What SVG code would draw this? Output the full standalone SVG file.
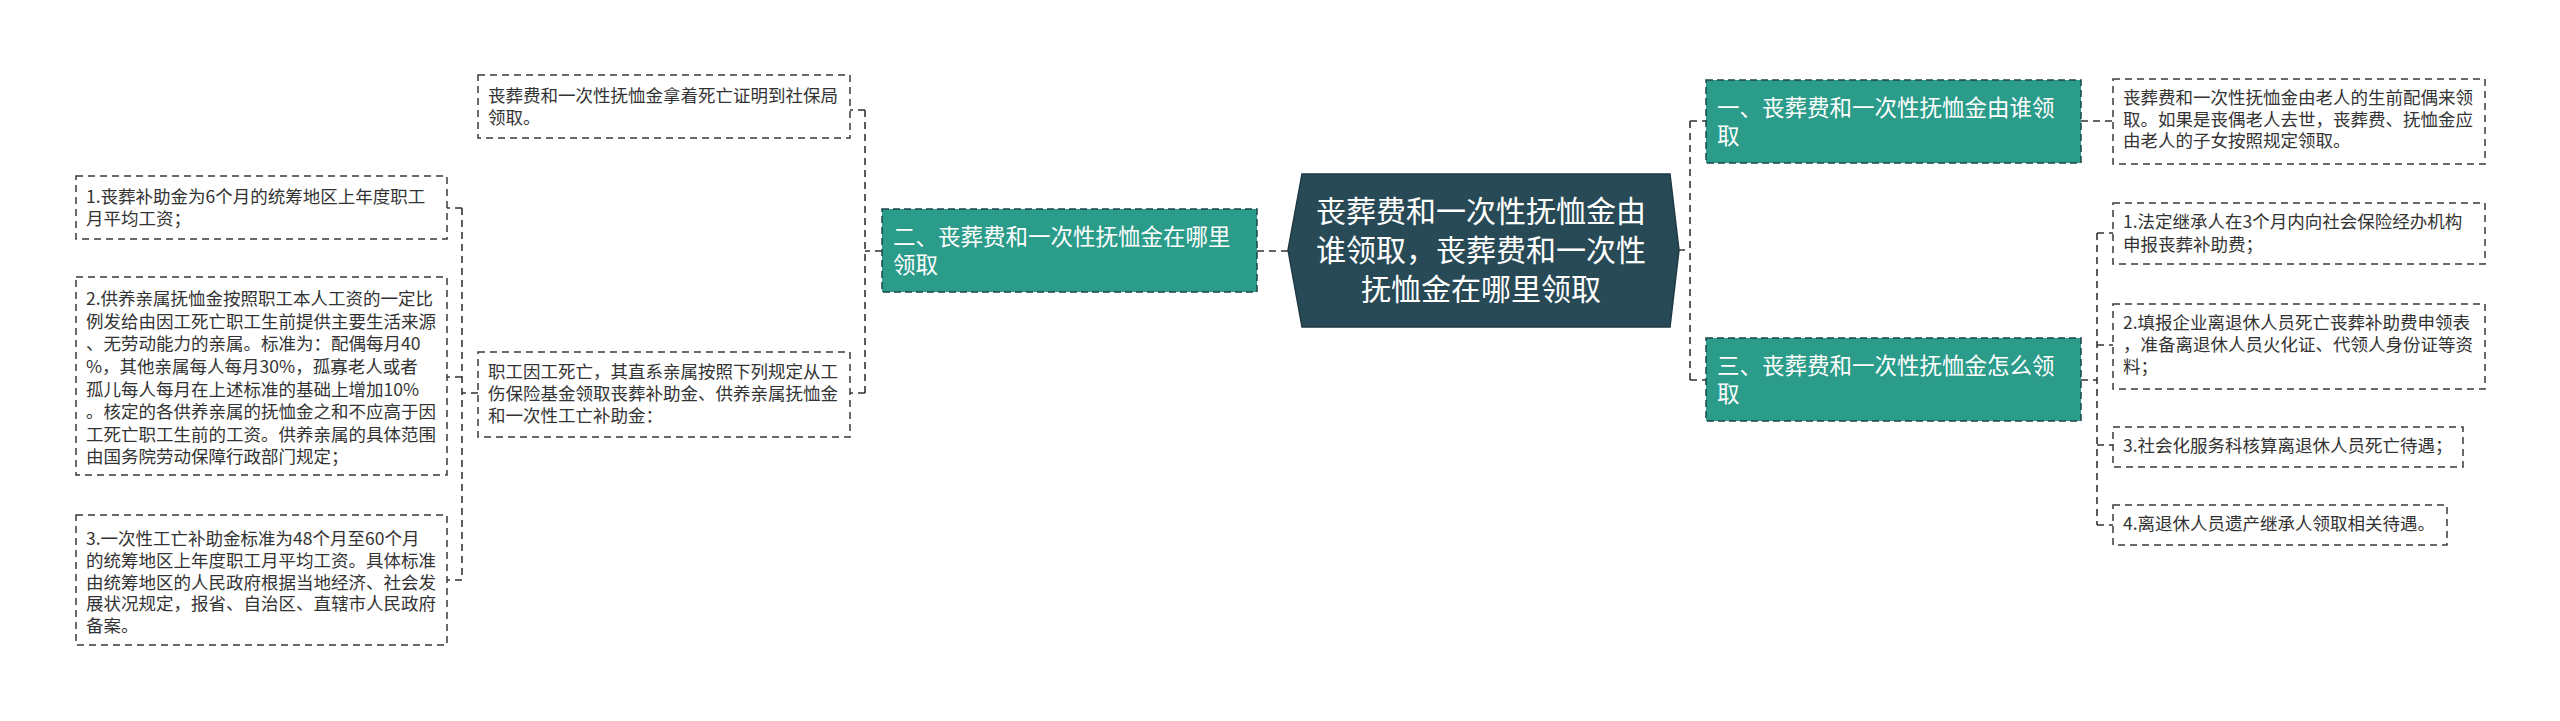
<svg xmlns="http://www.w3.org/2000/svg" width="2560" height="721" viewBox="0 0 2560 721">
<style>
.t{font-family:"Noto Sans CJK SC","Noto Sans",sans-serif}
.leaf{fill:#fff;stroke:#3a3a3a;stroke-width:1.5;stroke-dasharray:7 5}
.lt{font-size:17.5px;fill:#333}
.sub{fill:#2b9b8a;stroke:#1e4548;stroke-width:1.5;stroke-dasharray:7 4}
.st{font-size:22.5px;fill:#fff}
.ct{font-size:30px;fill:#fff}
.c{fill:none;stroke:#333;stroke-width:1.6;stroke-dasharray:7 5}
</style>
<rect width="2560" height="721" fill="#fff"/>
<g id="connectors">
<path class="c" d="M1257,251 H1288"/>
<path class="c" d="M1678,250 H1690 M1690,121 V380 M1690,121 H1706 M1690,380 H1706"/>
<path class="c" d="M2081,121 H2113"/>
<path class="c" d="M2081,380 H2097 M2097,233 V525 M2097,233 H2113 M2097,345 H2113 M2097,445 H2113 M2097,525 H2113"/>
<path class="c" d="M882,251 H865 M865,110 V393 M865,110 H850 M865,393 H850"/>
<path class="c" d="M478,393 H462 M462,208 V580 M462,208 H447 M462,377 H447 M462,580 H447"/>
</g>
<g id="center">
<polygon points="1302,174 1670,174 1679,250 1670,327 1302,327 1288,250" fill="#284a56" stroke="#1f3a44" stroke-width="1.5"/>
<text class="t ct" text-anchor="middle"><tspan x="1481" y="222">丧葬费和一次性抚恤金由</tspan><tspan x="1481" y="261">谁领取，丧葬费和一次性</tspan><tspan x="1481" y="300">抚恤金在哪里领取</tspan></text>
</g>
<g id="n1">
<rect class="sub" x="1706" y="80" width="375" height="83"/>
<text class="t st"><tspan x="1717" y="116">一、丧葬费和一次性抚恤金由谁领</tspan><tspan x="1717" y="144">取</tspan></text>
</g>
<g id="n1a">
<rect class="leaf" x="2113" y="79" width="372" height="85"/>
<text class="t lt"><tspan x="2123" y="104">丧葬费和一次性抚恤金由老人的生前配偶来领</tspan><tspan x="2123" y="126">取。如果是丧偶老人去世，丧葬费、抚恤金应</tspan><tspan x="2123" y="147">由老人的子女按照规定领取。</tspan></text>
</g>
<g id="n3">
<rect class="sub" x="1706" y="338" width="375" height="83"/>
<text class="t st"><tspan x="1717" y="374">三、丧葬费和一次性抚恤金怎么领</tspan><tspan x="1717" y="402">取</tspan></text>
</g>
<g id="n3a">
<rect class="leaf" x="2113" y="203" width="372" height="61"/>
<text class="t lt"><tspan x="2123" y="228">1.法定继承人在3个月内向社会保险经办机构</tspan><tspan x="2123" y="251">申报丧葬补助费；</tspan></text>
</g>
<g id="n3b">
<rect class="leaf" x="2113" y="304" width="372" height="85"/>
<text class="t lt"><tspan x="2123" y="329">2.填报企业离退休人员死亡丧葬补助费申领表</tspan><tspan x="2123" y="351">，准备离退休人员火化证、代领人身份证等资</tspan><tspan x="2123" y="373">料；</tspan></text>
</g>
<g id="n3c">
<rect class="leaf" x="2113" y="427" width="350" height="40"/>
<text class="t lt" x="2123" y="452">3.社会化服务科核算离退休人员死亡待遇；</text>
</g>
<g id="n3d">
<rect class="leaf" x="2113" y="505" width="334" height="40"/>
<text class="t lt" x="2123" y="530">4.离退休人员遗产继承人领取相关待遇。</text>
</g>
<g id="n2">
<rect class="sub" x="882" y="209" width="375" height="83"/>
<text class="t st"><tspan x="893" y="245">二、丧葬费和一次性抚恤金在哪里</tspan><tspan x="893" y="273">领取</tspan></text>
</g>
<g id="n2a">
<rect class="leaf" x="478" y="75" width="372" height="63"/>
<text class="t lt"><tspan x="488" y="102">丧葬费和一次性抚恤金拿着死亡证明到社保局</tspan><tspan x="488" y="124">领取。</tspan></text>
</g>
<g id="n2b">
<rect class="leaf" x="478" y="352" width="372" height="85"/>
<text class="t lt"><tspan x="488" y="378">职工因工死亡，其直系亲属按照下列规定从工</tspan><tspan x="488" y="400">伤保险基金领取丧葬补助金、供养亲属抚恤金</tspan><tspan x="488" y="422">和一次性工亡补助金：</tspan></text>
</g>
<g id="n2b1">
<rect class="leaf" x="76" y="176" width="371" height="63"/>
<text class="t lt"><tspan x="86" y="203">1.丧葬补助金为6个月的统筹地区上年度职工</tspan><tspan x="86" y="225">月平均工资；</tspan></text>
</g>
<g id="n2b2">
<rect class="leaf" x="76" y="277" width="371" height="198"/>
<text class="t lt"><tspan x="86" y="305">2.供养亲属抚恤金按照职工本人工资的一定比</tspan><tspan x="86" y="328">例发给由因工死亡职工生前提供主要生活来源</tspan><tspan x="86" y="350">、无劳动能力的亲属。标准为：配偶每月40</tspan><tspan x="86" y="373">%，其他亲属每人每月30%，孤寡老人或者</tspan><tspan x="86" y="396">孤儿每人每月在上述标准的基础上增加10%</tspan><tspan x="86" y="418">。核定的各供养亲属的抚恤金之和不应高于因</tspan><tspan x="86" y="441">工死亡职工生前的工资。供养亲属的具体范围</tspan><tspan x="86" y="463">由国务院劳动保障行政部门规定；</tspan></text>
</g>
<g id="n2b3">
<rect class="leaf" x="76" y="515" width="371" height="130"/>
<text class="t lt"><tspan x="86" y="545">3.一次性工亡补助金标准为48个月至60个月</tspan><tspan x="86" y="567">的统筹地区上年度职工月平均工资。具体标准</tspan><tspan x="86" y="589">由统筹地区的人民政府根据当地经济、社会发</tspan><tspan x="86" y="610">展状况规定，报省、自治区、直辖市人民政府</tspan><tspan x="86" y="632">备案。</tspan></text>
</g>
</svg>
